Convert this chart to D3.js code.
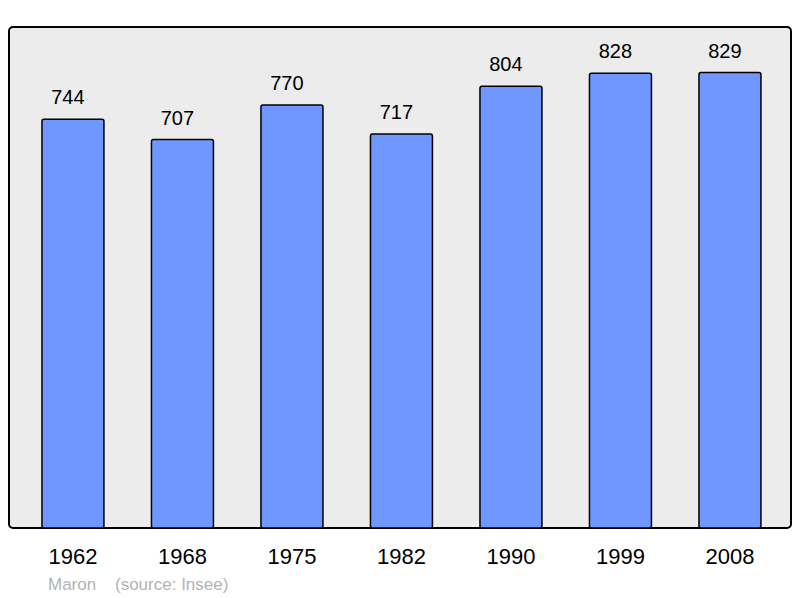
<!DOCTYPE html>
<html>
<head>
	<meta charset="utf-8">
	<title>Maron</title>
	<style>
		body { margin: 0; background: #fff; }
		text { font-family: "Liberation Sans", Arial, sans-serif; }
	</style>
</head>
<body>
	<svg width="800" height="598"></svg>
<script src="https://cdn.jsdelivr.net/npm/d3@7"></script>
<script>
	// données
	let years = ["1962", "1968", "1975", "1982", "1990", "1999", "2008"]
	let population = [744, 707, 770, 717, 804, 828, 829]
	let commune = "Maron"
	let source = "(source: Insee)"

	let svg = d3.select("svg")

	// cadre
	let x0 = 9, y0 = 27, x1 = 791, y1 = 528
	svg.append("rect")
		.attr("x", x0).attr("y", y0)
		.attr("width", x1 - x0).attr("height", y1 - y0)
		.attr("rx", 4)
		.attr("fill", "#ececec")
		.attr("stroke", "#000")
		.attr("stroke-width", 2)

	// échelles
	let x = d3.scaleBand().domain(years)
		.range([18.2, 784.7])
		.paddingInner(0.434).paddingOuter(0.217)
	let y = d3.scaleLinear().domain([0, 912]).range([y1, y0])

	// barres
	svg.append("g").selectAll("rect").data(population).enter().append("rect")
		.attr("x", (d, i) => x(years[i]))
		.attr("y", d => y(d))
		.attr("width", x.bandwidth())
		.attr("height", d => y1 - y(d))
		.attr("rx", 2)
		.attr("fill", "#7096ff")
		.attr("stroke", "#000")
		.attr("stroke-width", 1.5)

	// valeurs
	svg.append("g").selectAll("text").data(population).enter().append("text")
		.attr("x", (d, i) => x(years[i]) + x.bandwidth() / 2 - 5)
		.attr("y", d => y(d) - 15)
		.attr("text-anchor", "middle")
		.attr("font-size", 20)
		.text(d => d)

	// années
	svg.append("g").selectAll("text").data(years).enter().append("text")
		.attr("x", d => x(d) + x.bandwidth() / 2)
		.attr("y", 564)
		.attr("text-anchor", "middle")
		.attr("font-size", 22)
		.text(d => d)

	// légende
	svg.append("text").attr("x", 48).attr("y", 590)
		.attr("font-size", 17).attr("fill", "#b3b3b3").text(commune)
	svg.append("text").attr("x", 115).attr("y", 590)
		.attr("font-size", 17).attr("fill", "#b3b3b3").text(source)
</script>
</body>
</html>
